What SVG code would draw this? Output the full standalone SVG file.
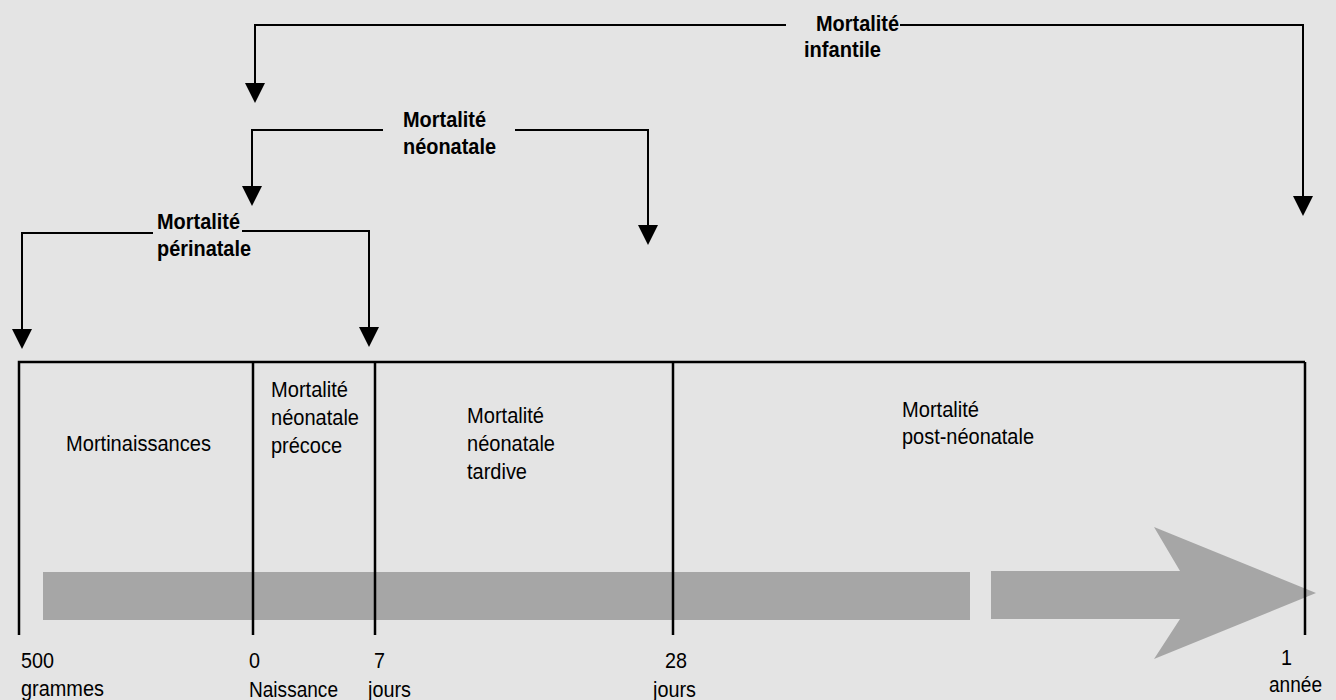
<svg xmlns="http://www.w3.org/2000/svg" width="1336" height="700" viewBox="0 0 1336 700">
<defs>
<marker id="ah" markerWidth="20" markerHeight="20" viewBox="0 0 20 20" refX="10" refY="0" orient="0" markerUnits="userSpaceOnUse">
<path d="M0,0 L20,0 L10,20 Z" fill="#000"/>
</marker>
<style>
.br{fill:none;stroke:#000;stroke-width:2}
.tl{fill:none;stroke:#000;stroke-width:2.5}
.b{font-family:"Liberation Sans",Arial,sans-serif;font-size:22px;font-weight:bold;fill:#000}
.r{font-family:"Liberation Sans",Arial,sans-serif;font-size:22px;fill:#000}
.bar{fill:#a6a6a6}
</style>
</defs>
<rect x="0" y="0" width="1336" height="700" fill="#e4e4e4"/>

<g id="timeline-bar">
<rect class="bar" x="43" y="572" width="927" height="48"/>
<path class="bar" d="M991,571 L1180,571 L1154,527 L1316,593 L1154,659 L1180,619 L991,619 Z"/>
</g>

<g id="connectors">
<path class="br" d="M786,25 L255,25 L255,83" marker-end="url(#ah)"/>
<path class="br" d="M900,25 L1303,25 L1303,196" marker-end="url(#ah)"/>
<path class="br" d="M383,130 L252,130 L252,186" marker-end="url(#ah)"/>
<path class="br" d="M515,130 L648,130 L648,225" marker-end="url(#ah)"/>
<path class="br" d="M153,233 L22,233 L22,329" marker-end="url(#ah)"/>
<path class="br" d="M242,231 L369,231 L369,327" marker-end="url(#ah)"/>
</g>

<g id="timeline-frame">
<path class="tl" d="M19,635 L19,362 L1305,362"/>
<path class="tl" d="M253,362 L253,635"/>
<path class="tl" d="M375,362 L375,635"/>
<path class="tl" d="M673,362 L673,635"/>
<path class="tl" d="M1305,362 L1305,635"/>
</g>

<g id="node-infantile">
<text class="b" x="816" y="31" textLength="83" lengthAdjust="spacingAndGlyphs">Mortalité</text>
<text class="b" x="804" y="57" textLength="77" lengthAdjust="spacingAndGlyphs">infantile</text>
</g>
<g id="node-neonatale">
<text class="b" x="403" y="127" textLength="83" lengthAdjust="spacingAndGlyphs">Mortalité</text>
<text class="b" x="403" y="154" textLength="93" lengthAdjust="spacingAndGlyphs">néonatale</text>
</g>
<g id="node-perinatale">
<text class="b" x="157" y="229" textLength="83" lengthAdjust="spacingAndGlyphs">Mortalité</text>
<text class="b" x="157" y="256" textLength="94" lengthAdjust="spacingAndGlyphs">périnatale</text>
</g>

<g id="node-mortinaissances">
<text class="r" x="66" y="451" textLength="145" lengthAdjust="spacingAndGlyphs">Mortinaissances</text>
</g>
<g id="node-precoce">
<text class="r" x="271" y="397" textLength="77" lengthAdjust="spacingAndGlyphs">Mortalité</text>
<text class="r" x="271" y="425" textLength="88" lengthAdjust="spacingAndGlyphs">néonatale</text>
<text class="r" x="271" y="453" textLength="71" lengthAdjust="spacingAndGlyphs">précoce</text>
</g>
<g id="node-tardive">
<text class="r" x="467" y="423" textLength="77" lengthAdjust="spacingAndGlyphs">Mortalité</text>
<text class="r" x="467" y="451" textLength="88" lengthAdjust="spacingAndGlyphs">néonatale</text>
<text class="r" x="467" y="479" textLength="60" lengthAdjust="spacingAndGlyphs">tardive</text>
</g>
<g id="node-post">
<text class="r" x="902" y="417" textLength="77" lengthAdjust="spacingAndGlyphs">Mortalité</text>
<text class="r" x="902" y="444" textLength="132" lengthAdjust="spacingAndGlyphs">post-néonatale</text>
</g>

<g id="axis-labels">
<text class="r" x="21" y="668" textLength="33" lengthAdjust="spacingAndGlyphs">500</text>
<text class="r" x="21" y="696" textLength="83" lengthAdjust="spacingAndGlyphs">grammes</text>
<text class="r" x="249" y="668" textLength="11" lengthAdjust="spacingAndGlyphs">0</text>
<text class="r" x="249" y="697" textLength="89" lengthAdjust="spacingAndGlyphs">Naissance</text>
<text class="r" x="374" y="668" textLength="11" lengthAdjust="spacingAndGlyphs">7</text>
<text class="r" x="368" y="697" textLength="43" lengthAdjust="spacingAndGlyphs">jours</text>
<text class="r" x="665" y="668" textLength="22" lengthAdjust="spacingAndGlyphs">28</text>
<text class="r" x="653" y="697" textLength="43" lengthAdjust="spacingAndGlyphs">jours</text>
<text class="r" x="1281" y="665" textLength="11" lengthAdjust="spacingAndGlyphs">1</text>
<text class="r" x="1269" y="692" textLength="53" lengthAdjust="spacingAndGlyphs">année</text>
</g>
</svg>
